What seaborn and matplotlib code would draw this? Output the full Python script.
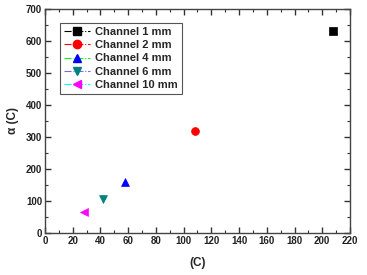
import matplotlib
matplotlib.use("Agg")
import matplotlib.pyplot as plt
import seaborn as sns
from matplotlib.lines import Line2D
from matplotlib.ticker import MultipleLocator

# data
channels = ["Channel 1 mm", "Channel 2 mm", "Channel 4 mm", "Channel 6 mm", "Channel 10 mm"]
x_vals = [208, 108, 58, 42, 28]
y_vals = [630, 318, 160, 105, 67]
markers = ["s", "o", "^", "v", "<"]
marker_colors = ["black", "red", "blue", "teal", "magenta"]
line_colors = ["black", "red", "lime", "mediumslateblue", "cyan"]

sns.set_style("ticks")
plt.rcParams["font.family"] = ["Liberation Sans", "DejaVu Sans"]
plt.rcParams["font.weight"] = "bold"

fig = plt.figure(figsize=(3.67, 2.75), dpi=100)
ax = fig.add_axes([0.1226, 0.1527, 0.831, 0.815])

# one point per channel
for num, name in enumerate(channels):
    sns.scatterplot(x=[x_vals[num]], y=[y_vals[num]], ax=ax, marker=markers[num],
                    color=marker_colors[num], s=32, edgecolor=marker_colors[num],
                    linewidth=0.5, legend=False)

ax.set_xlim(0, 220)
ax.set_ylim(0, 700)
ax.xaxis.set_major_locator(MultipleLocator(20))
ax.xaxis.set_minor_locator(MultipleLocator(10))
ax.yaxis.set_major_locator(MultipleLocator(100))
ax.yaxis.set_minor_locator(MultipleLocator(50))
ax.tick_params(which="both", direction="in", top=True, right=True, color="#333333")
ax.tick_params(which="major", length=4, width=1, labelsize=7, labelcolor="#222222", pad=2)
ax.tick_params(which="minor", length=2, width=0.8)
for lab in ax.get_xticklabels() + ax.get_yticklabels():
    lab.set_fontweight("bold")
for sp in ax.spines.values():
    sp.set_color("#444444")
    sp.set_linewidth(1)

ax.set_xlabel("(C)", fontsize=8.5, fontweight="bold", labelpad=8)
ax.set_ylabel("α (C)", fontsize=8.5, fontweight="bold", labelpad=5)

# legend with dash-dot lines
handles = [Line2D([0], [0], color=line_colors[i], linestyle="-.", linewidth=0.8,
                  marker=markers[i], markerfacecolor=marker_colors[i],
                  markeredgecolor=marker_colors[i], markersize=6)
           for i in range(len(channels))]
leg = ax.legend(handles, channels, loc="upper left", bbox_to_anchor=(0.049, 0.9375),
                prop={"weight": "bold", "size": 8}, fancybox=False,
                framealpha=1, edgecolor="#555555", handlelength=2.4,
                labelspacing=0.3, borderpad=0.35, handletextpad=0.4, borderaxespad=0)
leg.get_frame().set_linewidth(0.8)

fig.savefig("out.png", dpi=100)
